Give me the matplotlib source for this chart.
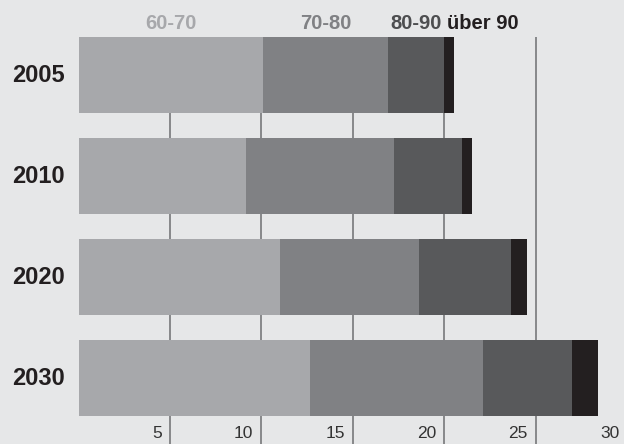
import numpy as np
import matplotlib
matplotlib.use("Agg")
import matplotlib.pyplot as plt

plt.rcParams['font.family'] = ['Liberation Sans', 'DejaVu Sans']

years = ['2005', '2010', '2020', '2030']
groups = ['60-70', '70-80', '80-90', 'über 90']
# segment widths
age_60_70 = [10.08, 9.15, 11.0, 12.65]
age_70_80 = [6.83, 8.08, 7.6, 9.45]
age_80_90 = [3.06, 3.70, 5.03, 4.87]
age_90 = [0.55, 0.60, 0.87, 1.42]
ticks = [5, 10, 15, 20, 25, 30]

bar_colors = ['#a7a8ab', '#808184', '#58595b', '#231f20']
text_colors = ['#a7a8ab', '#808184', '#4d4e50', '#231f20']
bg = '#e6e7e8'

fig = plt.figure(figsize=(6.24, 4.44), dpi=100, facecolor=bg)
ax = fig.add_axes([0, 0, 1, 1])
ax.set_facecolor(bg)
ax.set_xlim(-4.29, 29.81)
ax.set_ylim(3.653, -0.743)
ax.axis('off')

h = 0.752
y = np.arange(len(years))

# grid lines behind the bars, starting at the top of the first bar
ax.vlines(ticks, -h / 2, 3.653, color='#6d6e71', lw=1.1, zorder=1)

series = [age_60_70, age_70_80, age_80_90, age_90]
left = np.zeros(len(years))
for vals, c in zip(series, bar_colors):
    ax.barh(y, vals, left=left, height=h, color=c, zorder=2)
    left += np.array(vals)

for yi, yr in zip(y, years):
    ax.text(-0.75, yi, yr, ha='right', va='center', fontsize=17,
            fontweight='bold', color='#231f20')

for t in ticks:
    ax.text(t - 0.45, 3.55, str(t), ha='right', va='center', fontsize=12.5,
            color='#333333')

# group labels above the 2005 bar
starts = np.cumsum([0] + [s[0] for s in series[:-1]])
for i, (g, c) in enumerate(zip(groups, text_colors)):
    if i < 3:
        ax.text(starts[i] + series[i][0] / 2, -0.515, g, ha='center',
                va='center', fontsize=14.5, fontweight='bold', color=c)
    else:
        ax.text(starts[i] + 0.15, -0.515, g, ha='left', va='center',
                fontsize=14.5, fontweight='bold', color=c)

fig.savefig('out.png', dpi=100, facecolor=bg)
